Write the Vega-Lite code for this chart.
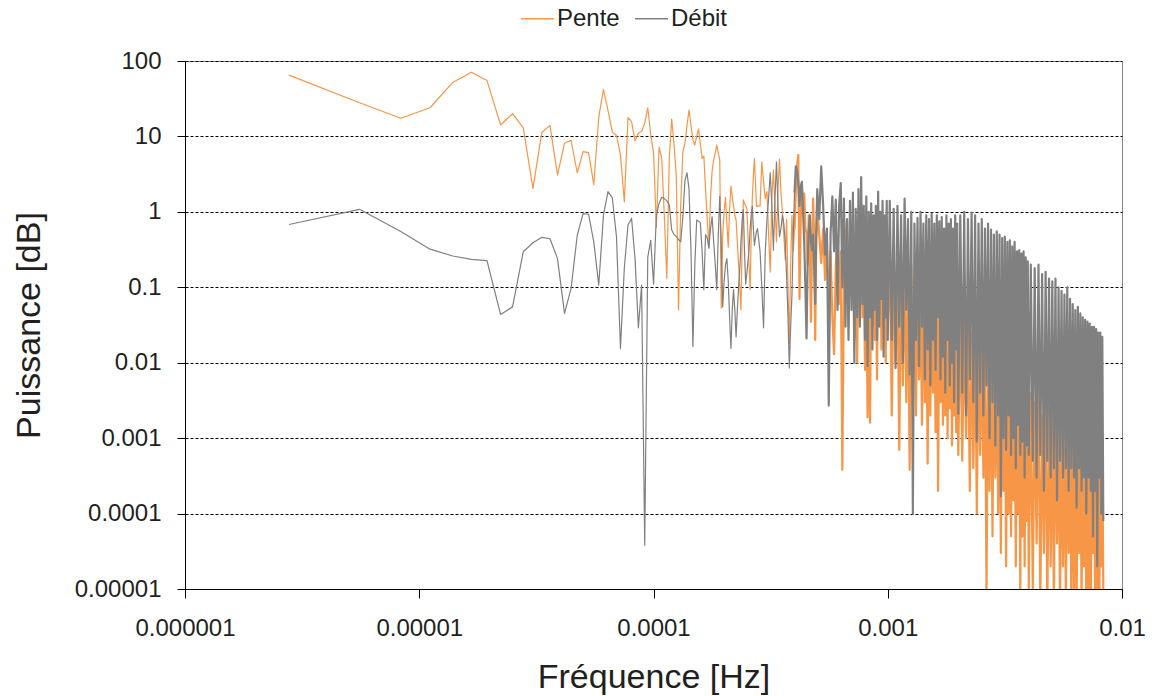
{
"$schema":"https://vega.github.io/schema/vega-lite/v6.json",
"width":937,"height":528,
"autosize":{"type":"none"},
"padding":{"left":185,"top":61,"right":32,"bottom":107},
"background":"white",
"config":{"font":"Liberation Sans","view":{"stroke":"#888888","strokeWidth":1}},
"data":{"values":[
{"f":2.78e-6,"P":65,"D":0.68},{"f":5.56e-6,"P":28,"D":1.08},{"f":8.34e-6,"P":17.4,"D":0.55},{"f":1.112e-5,"P":24,"D":0.32},{"f":1.39e-5,"P":52,"D":0.26},
{"f":1.668e-5,"P":71,"D":0.235},{"f":1.946e-5,"P":55,"D":0.225},{"f":2.224e-5,"P":14.2,"D":0.0437},{"f":2.502e-5,"P":20,"D":0.055},{"f":2.78e-5,"P":13,"D":0.296},
{"f":3.058e-5,"P":2.05,"D":0.39},{"f":3.336e-5,"P":11.3,"D":0.46},{"f":3.614e-5,"P":14,"D":0.44},{"f":3.892e-5,"P":3.1,"D":0.24},{"f":4.17e-5,"P":8.1,"D":0.045},
{"f":4.448e-5,"P":8.9,"D":0.097},{"f":4.726e-5,"P":3.3,"D":0.49},{"f":5.004e-5,"P":6.3,"D":0.95},{"f":5.282e-5,"P":6.1,"D":0.93},{"f":5.56e-5,"P":2.3,"D":0.4},
{"f":5.838e-5,"P":18,"D":0.107},{"f":6.116e-5,"P":42,"D":0.91},{"f":6.394e-5,"P":22,"D":1.85},{"f":6.672e-5,"P":11.4,"D":1.54},{"f":6.95e-5,"P":10.3,"D":0.47},
{"f":7.228e-5,"P":5.7,"D":0.0154},{"f":7.506e-5,"P":1.36,"D":0.18},{"f":7.784e-5,"P":17.8,"D":0.67},{"f":8.062e-5,"P":15.7,"D":0.82},{"f":8.34e-5,"P":8.7,"D":0.24},
{"f":8.618e-5,"P":11.1,"D":0.029},{"f":8.896e-5,"P":11.6,"D":0.107},{"f":9.174e-5,"P":15,"D":3.8e-5},{"f":9.452e-5,"P":24,"D":0.25},{"f":9.73e-5,"P":10.5,"D":0.42},
{"f":1.0008e-4,"P":6,"D":0.11},{"f":1.0286e-4,"P":0.62,"D":0.9},{"f":1.0564e-4,"P":7.2,"D":1.3},{"f":1.0842e-4,"P":5.1,"D":1.56},{"f":1.112e-4,"P":0.9,"D":1.5},
{"f":1.1398e-4,"P":0.13,"D":1.4},{"f":1.1676e-4,"P":5,"D":1.25},{"f":1.1954e-4,"P":17,"D":0.58},{"f":1.2232e-4,"P":8,"D":0.5},{"f":1.251e-4,"P":3,"D":0.47},
{"f":1.2788e-4,"P":0.05,"D":0.43},{"f":1.3066e-4,"P":1.2,"D":0.4},{"f":1.3344e-4,"P":6.3,"D":0.86},{"f":1.3622e-4,"P":8.1,"D":2.6},{"f":1.39e-4,"P":14,"D":3.3},
{"f":1.4178e-4,"P":22.4,"D":2.0},{"f":1.4456e-4,"P":14,"D":0.3},{"f":1.4734e-4,"P":9,"D":0.0164},{"f":1.5012e-4,"P":7.7,"D":0.2},{"f":1.529e-4,"P":10,"D":0.78},
{"f":1.5568e-4,"P":12.5,"D":0.75},{"f":1.5846e-4,"P":8,"D":0.72},{"f":1.6124e-4,"P":5.1,"D":0.3},{"f":1.6402e-4,"P":5.5,"D":0.093},{"f":1.668e-4,"P":2,"D":0.5},
{"f":1.6958e-4,"P":0.8,"D":0.45},{"f":1.7236e-4,"P":0.33,"D":0.33},{"f":1.7514e-4,"P":1.5,"D":0.6},{"f":1.7792e-4,"P":3.5,"D":0.86},{"f":1.807e-4,"P":4.9,"D":0.4},
{"f":1.8348e-4,"P":6,"D":0.2},{"f":1.8626e-4,"P":7.7,"D":0.093},{"f":1.8904e-4,"P":6,"D":0.5},{"f":1.9182e-4,"P":4.9,"D":1.6},{"f":1.946e-4,"P":0.053,"D":0.4},
{"f":1.9738e-4,"P":0.5,"D":0.055},{"f":2.0016e-4,"P":1,"D":0.12},{"f":2.0294e-4,"P":1.56,"D":0.2},{"f":2.0572e-4,"P":0.7,"D":0.24},{"f":2.085e-4,"P":0.34,"D":0.12},
{"f":2.1128e-4,"P":1.1,"D":0.04},{"f":2.1406e-4,"P":2.2,"D":0.0154},{"f":2.1684e-4,"P":1.6,"D":0.05},{"f":2.1962e-4,"P":1.2,"D":0.093},{"f":2.224e-4,"P":0.9,"D":0.05},
{"f":2.2518e-4,"P":0.78,"D":0.022},{"f":2.2796e-4,"P":0.4,"D":0.05},{"f":2.3074e-4,"P":0.2,"D":0.1},{"f":2.3352e-4,"P":0.1,"D":0.17},{"f":2.363e-4,"P":0.05,"D":0.4},
{"f":2.3908e-4,"P":0.4,"D":0.8},{"f":2.4186e-4,"P":1.44,"D":1.07},{"f":2.4464e-4,"P":1.3,"D":0.3},{"f":2.4742e-4,"P":1.2,"D":0.11},{"f":2.502e-4,"P":1.1,"D":0.15},
{"f":2.5298e-4,"P":0.5,"D":0.22},{"f":2.5576e-4,"P":0.2,"D":0.31},{"f":2.5854e-4,"P":0.093,"D":0.6},{"f":2.6132e-4,"P":0.5,"D":0.9},{"f":2.641e-4,"P":1.5,"D":1.18},
{"f":2.6688e-4,"P":3,"D":0.6},{"f":2.6966e-4,"P":5.1,"D":0.36},{"f":2.7244e-4,"P":2.5,"D":0.45},{"f":2.7522e-4,"P":1.18,"D":0.55},{"f":2.78e-4,"P":1.2,"D":0.6},
{"f":2.85e-4,"P":1.2,"D":0.3},{"f":2.9e-4,"P":4.6,"D":0.1},{"f":2.95e-4,"P":2.5,"D":0.029},{"f":3.0e-4,"P":1.5,"D":0.3},{"f":3.05e-4,"P":1.85,"D":0.78},
{"f":3.1e-4,"P":0.5,"D":1.5},{"f":3.15e-4,"P":0.16,"D":3.3},{"f":3.2e-4,"P":1.5,"D":1.2},{"f":3.25e-4,"P":3.6,"D":0.31},{"f":3.3e-4,"P":1.2,"D":1.5},
{"f":3.35e-4,"P":0.4,"D":4.6},{"f":3.4e-4,"P":2,"D":1.2},{"f":3.45e-4,"P":5,"D":0.47},{"f":3.5e-4,"P":1.8,"D":0.6},{"f":3.55e-4,"P":1.0,"D":0.9},
{"f":3.6e-4,"P":0.5,"D":0.7},{"f":3.65e-4,"P":0.23,"D":0.4},{"f":3.7e-4,"P":0.8,"D":0.14},{"f":3.75e-4,"P":0.1,"D":0.04},{"f":3.8e-4,"P":0.018,"D":0.0085},
{"f":3.85e-4,"P":0.2,"D":0.03},{"f":3.9e-4,"P":0.9,"D":0.079},{"f":3.95e-4,"P":0.3,"D":0.5},{"f":4.0e-4,"P":0.58,"D":1.8},{"f":4.05e-4,"P":2,"D":4},
{"f":4.1e-4,"P":4,"D":3.5},{"f":4.15e-4,"P":5.7,"D":2.5},{"f":4.2e-4,"P":0.07,"D":1.2},{"f":4.25e-4,"P":0.8,"D":2.15},{"f":4.3e-4,"P":2,"D":2.5},
{"f":4.35e-4,"P":1.24,"D":1.0},{"f":4.4e-4,"P":1.75,"D":0.39},{"f":4.45e-4,"P":0.6,"D":0.1},{"f":4.5e-4,"P":0.52,"D":0.021},{"f":4.55e-4,"P":0.2,"D":0.2},
{"f":4.6e-4,"P":0.9,"D":0.58},{"f":4.65e-4,"P":0.3,"D":0.9},{"f":4.7e-4,"P":0.035,"D":0.4},{"f":4.75e-4,"P":0.3,"D":0.31},{"f":4.8e-4,"P":1.5,"D":0.5},
{"f":4.85e-4,"P":0.5,"D":0.2},{"f":4.9e-4,"P":0.02,"D":0.06},{"f":4.95e-4,"P":0.36,"D":0.5},{"f":5.0e-4,"P":1.18,"D":2},
{"f":5.1e-4,"P":0.5,"D":0.8},{"f":5.2e-4,"P":0.21,"D":4},{"f":5.3e-4,"P":0.6,"D":1.2},{"f":5.4e-4,"P":0.125,"D":0.27},{"f":5.5e-4,"P":0.4,"D":0.6},
{"f":5.6e-4,"P":0.05,"D":0.0027},{"f":5.7e-4,"P":0.3,"D":0.5},{"f":5.8e-4,"P":0.04,"D":1.6},{"f":5.9e-4,"P":0.013,"D":0.3},{"f":6.0e-4,"P":0.2,"D":1.45},
{"f":6.1e-4,"P":0.5,"D":0.05},{"f":6.2e-4,"P":0.06,"D":1.2},{"f":6.3e-4,"P":0.3,"D":2.4},{"f":6.4e-4,"P":0.00038,"D":0.1},{"f":6.5e-4,"P":0.15,"D":1.5},
{"f":6.6e-4,"P":0.5,"D":0.03},{"f":6.7e-4,"P":0.78,"D":0.8},{"f":6.8e-4,"P":0.03,"D":0.02},{"f":6.9e-4,"P":0.3,"D":1.4},{"f":7.0e-4,"P":0.08,"D":0.05},
{"f":7.1e-4,"P":0.4,"D":1.8},{"f":7.2e-4,"P":0.02,"D":0.01},{"f":7.3e-4,"P":0.25,"D":1.1},{"f":7.4e-4,"P":0.01,"D":0.04},{"f":7.5e-4,"P":0.35,"D":2.0},
{"f":7.6e-4,"P":0.05,"D":0.03},{"f":7.7e-4,"P":0.6,"D":2.9},{"f":7.8e-4,"P":0.04,"D":0.06},{"f":7.9e-4,"P":0.2,"D":1.2},{"f":8.0e-4,"P":0.008,"D":0.02},
{"f":8.1e-4,"P":0.3,"D":1.6},{"f":8.2e-4,"P":0.0019,"D":0.009},{"f":8.3e-4,"P":0.15,"D":1.0},{"f":8.4e-4,"P":0.0016,"D":0.04},{"f":8.5e-4,"P":0.2,"D":1.3},
{"f":8.6e-4,"P":0.03,"D":0.015},{"f":8.7e-4,"P":0.4,"D":0.9},{"f":8.8e-4,"P":0.02,"D":0.05},{"f":8.9e-4,"P":0.25,"D":1.2},{"f":9.0e-4,"P":0.006,"D":0.02},
{"f":9.1e-4,"P":0.3,"D":1.85},{"f":9.2e-4,"P":0.04,"D":0.03},{"f":9.3e-4,"P":0.5,"D":1.0},{"f":9.4e-4,"P":0.015,"D":0.07},{"f":9.5e-4,"P":0.2,"D":1.4},
{"f":9.6e-4,"P":0.05,"D":0.012},{"f":9.7e-4,"P":0.25,"D":0.9},{"f":9.8e-4,"P":0.01,"D":0.04},{"f":9.9e-4,"P":0.3,"D":1.4},{"f":1.0e-3,"P":0.03,"D":0.02},
{"f":1.02e-3,"P":0.3,"D":1.4},{"f":1.04e-3,"P":0.002,"D":0.02},{"f":1.06e-3,"P":0.2,"D":1.1},{"f":1.08e-3,"P":0.01,"D":0.0085},{"f":1.1e-3,"P":0.15,"D":1.2},
{"f":1.12e-3,"P":0.0007,"D":0.03},{"f":1.14e-3,"P":0.25,"D":0.9},{"f":1.16e-3,"P":0.005,"D":0.01},{"f":1.18e-3,"P":0.17,"D":1.5},{"f":1.2e-3,"P":0.003,"D":0.05},
{"f":1.22e-3,"P":0.12,"D":0.8},{"f":1.24e-3,"P":0.00038,"D":0.007},{"f":1.26e-3,"P":0.2,"D":1.0},{"f":1.28e-3,"P":0.004,"D":0.0001},{"f":1.3e-3,"P":0.1,"D":0.7},
{"f":1.32e-3,"P":0.002,"D":0.02},{"f":1.34e-3,"P":0.15,"D":0.83},{"f":1.36e-3,"P":0.006,"D":0.009},{"f":1.38e-3,"P":0.08,"D":1.0},{"f":1.4e-3,"P":0.0015,"D":0.03},
{"f":1.42e-3,"P":0.12,"D":0.7},{"f":1.44e-3,"P":0.003,"D":0.006},{"f":1.46e-3,"P":0.09,"D":0.9},{"f":1.48e-3,"P":0.00046,"D":0.015},{"f":1.5e-3,"P":0.1,"D":0.8},
{"f":1.52e-3,"P":0.002,"D":0.005},{"f":1.54e-3,"P":0.14,"D":0.95},{"f":1.56e-3,"P":0.004,"D":0.02},{"f":1.58e-3,"P":0.075,"D":0.7},{"f":1.6e-3,"P":0.0012,"D":0.008},
{"f":1.62e-3,"P":0.1,"D":0.9},{"f":1.64e-3,"P":0.0002,"D":0.04},{"f":1.66e-3,"P":0.08,"D":0.75},{"f":1.68e-3,"P":0.003,"D":0.006},{"f":1.7e-3,"P":0.12,"D":0.85},
{"f":1.72e-3,"P":0.0015,"D":0.012},{"f":1.74e-3,"P":0.06,"D":0.6},{"f":1.76e-3,"P":0.002,"D":0.004},{"f":1.78e-3,"P":0.09,"D":0.9},{"f":1.8e-3,"P":0.001,"D":0.02},
{"f":1.82e-3,"P":0.07,"D":0.7},{"f":1.84e-3,"P":0.0025,"D":0.005},{"f":1.86e-3,"P":0.075,"D":0.8},{"f":1.88e-3,"P":0.0008,"D":0.01},{"f":1.9e-3,"P":0.05,"D":0.6},
{"f":1.92e-3,"P":0.002,"D":0.003},{"f":1.94e-3,"P":0.06,"D":0.9},{"f":1.96e-3,"P":0.0012,"D":0.015},{"f":1.98e-3,"P":0.04,"D":0.7},{"f":2.0e-3,"P":0.0006,"D":0.0021},
{"f":2.04e-3,"P":0.04,"D":0.9},{"f":2.08e-3,"P":0.0005,"D":0.004},{"f":2.12e-3,"P":0.03,"D":1.0},{"f":2.16e-3,"P":0.001,"D":0.002},{"f":2.2e-3,"P":0.034,"D":0.8},
{"f":2.24e-3,"P":0.0002,"D":0.006},{"f":2.28e-3,"P":0.025,"D":0.98},{"f":2.32e-3,"P":0.0004,"D":0.003},{"f":2.36e-3,"P":0.03,"D":0.9},{"f":2.4e-3,"P":0.0001,"D":0.0009},
{"f":2.44e-3,"P":0.02,"D":0.7},{"f":2.48e-3,"P":0.0006,"D":0.004},{"f":2.52e-3,"P":0.025,"D":0.8},{"f":2.56e-3,"P":0.0003,"D":0.002},{"f":2.6e-3,"P":0.015,"D":0.6},
{"f":2.64e-3,"P":8e-6,"D":0.005},{"f":2.68e-3,"P":0.02,"D":0.7},{"f":2.72e-3,"P":0.0002,"D":0.001},{"f":2.76e-3,"P":0.0225,"D":0.58},{"f":2.8e-3,"P":5e-5,"D":0.003},
{"f":2.84e-3,"P":0.015,"D":0.5},{"f":2.88e-3,"P":0.0003,"D":0.0008},{"f":2.92e-3,"P":0.02,"D":0.55},{"f":2.96e-3,"P":0.0001,"D":0.002},{"f":3.0e-3,"P":0.012,"D":0.5},
{"f":3.04e-3,"P":3e-5,"D":0.00017},{"f":3.08e-3,"P":0.015,"D":0.45},{"f":3.12e-3,"P":0.0002,"D":0.001},{"f":3.16e-3,"P":0.012,"D":0.47},{"f":3.2e-3,"P":2e-5,"D":0.0007},
{"f":3.24e-3,"P":0.01,"D":0.4},{"f":3.28e-3,"P":0.0001,"D":0.002},{"f":3.32e-3,"P":0.008,"D":0.42},{"f":3.36e-3,"P":5e-5,"D":0.0006},{"f":3.4e-3,"P":0.012,"D":0.35},
{"f":3.44e-3,"P":0.00015,"D":0.001},{"f":3.48e-3,"P":0.006,"D":0.4},{"f":3.52e-3,"P":2e-5,"D":0.0004},{"f":3.56e-3,"P":0.008,"D":0.3},{"f":3.6e-3,"P":0.0001,"D":0.0015},
{"f":3.64e-3,"P":0.005,"D":0.31},{"f":3.68e-3,"P":8e-6,"D":0.0006},{"f":3.72e-3,"P":0.006,"D":0.28},{"f":3.76e-3,"P":5e-5,"D":0.0009},{"f":3.8e-3,"P":0.004,"D":0.3},
{"f":3.84e-3,"P":2e-5,"D":0.0003},{"f":3.88e-3,"P":0.005,"D":0.25},{"f":3.92e-3,"P":8e-5,"D":0.0008},{"f":3.96e-3,"P":0.003,"D":0.22},{"f":4.0e-3,"P":1e-5,"D":0.0006},
{"f":4.08e-3,"P":0.004,"D":0.2},{"f":4.16e-3,"P":1e-5,"D":0.0005},{"f":4.24e-3,"P":0.003,"D":0.18},{"f":4.32e-3,"P":4e-5,"D":0.0003},{"f":4.4e-3,"P":0.005,"D":0.2},
{"f":4.48e-3,"P":6e-6,"D":0.0006},{"f":4.56e-3,"P":0.002,"D":0.15},{"f":4.64e-3,"P":3e-5,"D":0.0002},{"f":4.72e-3,"P":0.003,"D":0.16},{"f":4.8e-3,"P":5e-6,"D":0.0005},
{"f":4.88e-3,"P":0.0025,"D":0.13},{"f":4.96e-3,"P":2e-5,"D":0.0003},{"f":5.04e-3,"P":0.002,"D":0.12},{"f":5.12e-3,"P":6e-6,"D":0.0004},{"f":5.2e-3,"P":0.003,"D":0.13},
{"f":5.28e-3,"P":4e-5,"D":0.00015},{"f":5.36e-3,"P":0.0015,"D":0.1},{"f":5.44e-3,"P":5e-6,"D":0.0005},{"f":5.52e-3,"P":0.002,"D":0.09},{"f":5.6e-3,"P":2e-5,"D":0.0003},
{"f":5.68e-3,"P":0.0018,"D":0.08},{"f":5.76e-3,"P":6e-6,"D":0.0004},{"f":5.84e-3,"P":0.0025,"D":0.1},{"f":5.92e-3,"P":3e-5,"D":0.0002},{"f":6.0e-3,"P":0.0012,"D":0.07},
{"f":6.08e-3,"P":5e-6,"D":0.0004},{"f":6.16e-3,"P":0.002,"D":0.06},{"f":6.24e-3,"P":1e-5,"D":0.0003},{"f":6.32e-3,"P":0.0015,"D":0.05},{"f":6.4e-3,"P":5e-6,"D":0.00012},
{"f":6.48e-3,"P":0.001,"D":0.055},{"f":6.56e-3,"P":3e-5,"D":0.0004},{"f":6.64e-3,"P":0.0018,"D":0.045},{"f":6.72e-3,"P":6e-6,"D":0.0002},{"f":6.8e-3,"P":0.0012,"D":0.04},
{"f":6.88e-3,"P":2e-5,"D":0.0003},{"f":6.96e-3,"P":0.0015,"D":0.037},{"f":7.04e-3,"P":5e-6,"D":0.0001},{"f":7.12e-3,"P":0.001,"D":0.035},{"f":7.2e-3,"P":1e-5,"D":0.0003},
{"f":7.28e-3,"P":0.0012,"D":0.033},{"f":7.36e-3,"P":5e-6,"D":0.0002},{"f":7.44e-3,"P":0.0008,"D":0.03},{"f":7.52e-3,"P":3e-5,"D":5e-5},{"f":7.6e-3,"P":0.001,"D":0.03},
{"f":7.68e-3,"P":6e-6,"D":0.0002},{"f":7.76e-3,"P":0.0009,"D":0.028},{"f":7.84e-3,"P":1e-5,"D":2e-5},{"f":7.92e-3,"P":0.0012,"D":0.025},{"f":8.0e-3,"P":5e-6,"D":0.0003},
{"f":8.08e-3,"P":0.0008,"D":0.025},{"f":8.16e-3,"P":2e-5,"D":0.0001},{"f":8.24e-3,"P":0.001,"D":0.022},{"f":8.32e-3,"P":1e-5,"D":8e-5}
]},
"encoding":{
"x":{"field":"f","type":"quantitative",
"scale":{"type":"log","domain":[1e-6,0.01],"nice":false},
"axis":{"title":"Fréquence [Hz]","values":[1e-6,1e-5,1e-4,1e-3,1e-2],"format":"~g","grid":false,
"labelFontSize":24,"labelColor":"#231F20","labelPadding":18,"labelFlush":false,"labelOverlap":false,
"tickSize":9,"tickColor":"#000000","domainColor":"#000000",
"titleFontSize":34,"titleFontWeight":"normal","titleColor":"#231F20","titlePadding":20}},
"y":{"type":"quantitative","scale":{"type":"log","domain":[1e-5,100],"nice":false},
"axis":{"title":"Puissance [dB]","values":[1e-5,1e-4,1e-3,1e-2,0.1,1,10,100],"format":"~g",
"grid":true,"gridColor":"#000000","gridDash":[3,2],"gridWidth":1,
"labelFontSize":24,"labelColor":"#231F20","labelPadding":16,"labelOverlap":false,
"tickSize":8,"tickColor":"#000000","domainColor":"#000000",
"titleFontSize":34,"titleFontWeight":"normal","titleColor":"#231F20","titlePadding":28}}
},
"layer":[
{"transform":[{"filter":"datum.f <= 4.0e-4"}],
"mark":{"type":"line","clip":true,"strokeWidth":1.2,"strokeJoin":"round"},
"encoding":{"y":{"field":"P","type":"quantitative"},
"color":{"datum":"Pente","type":"nominal","scale":{"domain":["Pente","Débit"],"range":["#F79646","#808080"]},
"legend":{"orient":"none","legendX":335,"legendY":-60,"direction":"horizontal","title":null,
"symbolType":"stroke","symbolSize":1089,"symbolStrokeWidth":1.5,
"labelFontSize":24,"labelColor":"#231F20","labelOffset":2,"columnPadding":12}}}},
{"transform":[{"filter":"datum.f >= 4.0e-4"}],
"mark":{"type":"line","clip":true,"strokeWidth":2.2,"strokeJoin":"round"},
"encoding":{"y":{"field":"P","type":"quantitative"},"color":{"datum":"Pente","type":"nominal"}}},
{"transform":[{"filter":"datum.f <= 4.0e-4"}],
"mark":{"type":"line","clip":true,"strokeWidth":1.2,"strokeJoin":"round"},
"encoding":{"y":{"field":"D","type":"quantitative"},"color":{"datum":"Débit","type":"nominal"}}},
{"transform":[{"filter":"datum.f >= 4.0e-4"}],
"mark":{"type":"line","clip":true,"strokeWidth":2.2,"strokeJoin":"round"},
"encoding":{"y":{"field":"D","type":"quantitative"},"color":{"datum":"Débit","type":"nominal"}}}
]
}
